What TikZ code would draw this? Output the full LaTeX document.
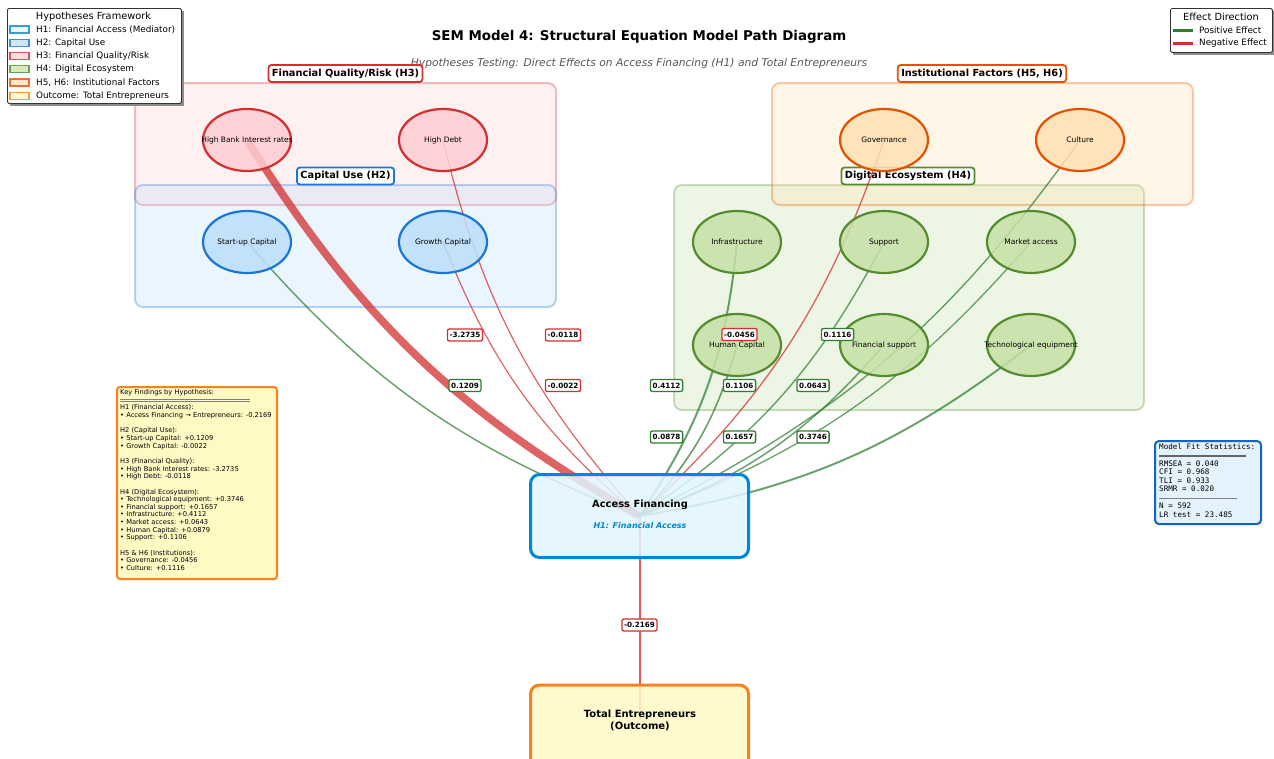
\documentclass[tikz,border=0pt]{standalone}
\usepackage{fontspec}
\setmainfont{DejaVu Sans}
\setmonofont{DejaVu Sans Mono}
\usetikzlibrary{shapes.geometric}
\definecolor{h1fill}{HTML}{E1F5FE}\definecolor{h1edge}{HTML}{0288D1}
\definecolor{h2fill}{HTML}{BBDEFB}\definecolor{h2edge}{HTML}{1976D2}
\definecolor{h3fill}{HTML}{FFCDD2}\definecolor{h3edge}{HTML}{D32F2F}
\definecolor{h4fill}{HTML}{C5E1A5}\definecolor{h4edge}{HTML}{558B2F}
\definecolor{h5fill}{HTML}{FFE0B2}\definecolor{h5edge}{HTML}{E65100}
\definecolor{outfill}{HTML}{FFF9C4}\definecolor{outedge}{HTML}{F58220}
\definecolor{posc}{HTML}{2E7D32}\definecolor{negc}{HTML}{D32F2F}
\definecolor{fitfill}{HTML}{E3F2FD}\definecolor{fitedge}{HTML}{1565C0}
\definecolor{subgray}{HTML}{555555}
\begin{document}
\begin{tikzpicture}[x=1pt,y=-1pt,
  grpbox/.style={rounded corners=8pt, line width=2pt, fill opacity=0.3, draw opacity=0.3},
  grplabel/.style={draw, fill=white, rounded corners=3pt, line width=1.8pt, font=\fontsize{9.8}{11}\selectfont\bfseries, inner xsep=3.5pt, inner ysep=0pt, minimum height=17pt},
  elbase/.style={ellipse, minimum width=88pt, minimum height=62pt, line width=2.2pt, fill opacity=0.85, inner sep=0pt},
  ellthree/.style={elbase, draw=h3edge, fill=h3fill},
  elltwo/.style={elbase, draw=h2edge, fill=h2fill},
  ellfour/.style={elbase, draw=h4edge, fill=h4fill},
  ellfive/.style={elbase, draw=h5edge, fill=h5fill},
  etext/.style={font=\fontsize{7.5}{8}\selectfont, inner sep=0pt},
  poseff/.style={draw=posc, draw opacity=0.72},
  negeff/.style={draw=negc, draw opacity=0.75},
  coef/.style={draw, fill=white, rounded corners=2pt, line width=1.3pt, font=\fontsize{7.2}{8}\selectfont\bfseries, inner xsep=2.2pt, inner ysep=0pt, minimum height=12pt},
  coefp/.style={coef, draw=posc},
  coefn/.style={coef, draw=negc},
  legpatch/.style={minimum width=19pt, minimum height=7pt, inner sep=0pt, line width=1.2pt, fill opacity=0.7, draw opacity=0.8},
  legtext/.style={anchor=west, font=\fontsize{8.8}{9}\selectfont, inner sep=0pt}
]
\useasboundingbox (0,0) rectangle (1274,758);

% titles
\node[font=\fontsize{13.4}{15}\selectfont\bfseries] (title) at (639,37) {SEM Model 4: Structural Equation Model Path Diagram};
\node[font=\fontsize{10.7}{12}\selectfont\itshape, text=subgray] (subtitle) at (639,64) {Hypotheses Testing: Direct Effects on Access Financing (H1) and Total Entrepreneurs};

% group boxes
\draw[grpbox, fill=h3fill, draw=h3edge] (135,83) rectangle (556,205);
\draw[grpbox, fill=h2fill, draw=h2edge] (135,185) rectangle (556,307);
\draw[grpbox, fill=h4fill, draw=h4edge] (674,185) rectangle (1144,410);
\draw[grpbox, fill=h5fill, draw=h5edge] (772,83) rectangle (1193,205);

% group labels
\node[grplabel, draw=h3edge] (lh3) at (345.5,73.5) {Financial Quality/Risk (H3)};
\node[grplabel, draw=h2edge] (lh2) at (345.5,176) {Capital Use (H2)};
\node[grplabel, draw=h5edge] (lh5) at (982,73.5) {Institutional Factors (H5, H6)};
\node[grplabel, draw=h4edge] (lh4) at (908,176) {Digital Ecosystem (H4)};

% coordinates of nodes (drawn later)
\coordinate (chbir) at (247,140);
\coordinate (chd) at (443,140);
\coordinate (csu) at (247,242);
\coordinate (cgc) at (443,242);
\coordinate (cgov) at (884,140);
\coordinate (ccul) at (1080,140);
\coordinate (cinf) at (737,242);
\coordinate (csup) at (884,242);
\coordinate (cmkt) at (1031,242);
\coordinate (chc) at (737,345);
\coordinate (cfs) at (884,345);
\coordinate (cte) at (1031,345);
\coordinate (caf) at (639.5,516);
\coordinate (cafb) at (640,516);
\coordinate (cout) at (640,720);

% paths
\draw[negeff, line width=7.7pt] (chbir) to[bend right=14] (caf);
\draw[negeff, line width=1.2pt] (chd) to[bend right=14] (caf);
\draw[poseff, line width=1.45pt] (csu) to[bend right=14] (caf);
\draw[negeff, line width=1.2pt] (cgc) to[bend right=14] (caf);
\draw[negeff, line width=1.3pt] (cgov) to[bend left=14] (caf);
\draw[poseff, line width=1.4pt] (ccul) to[bend left=14] (caf);
\draw[poseff, line width=2.0pt] (cinf) to[bend left=14] (caf);
\draw[poseff, line width=1.4pt] (csup) to[bend left=14] (caf);
\draw[poseff, line width=1.3pt] (cmkt) to[bend left=14] (caf);
\draw[poseff, line width=1.6pt] (chc) to[bend left=14] (caf);
\draw[poseff, line width=1.5pt] (cfs) to[bend left=14] (caf);
\draw[poseff, line width=1.95pt] (cte) to[bend left=14] (caf);
\draw[draw=negc, draw opacity=0.8, line width=1.6pt] (cafb) -- (cout);

% ellipses
\node[ellthree] (hbir) at (chbir) {}; \node[etext] at (hbir) {High Bank Interest rates};
\node[ellthree] (hd) at (chd) {}; \node[etext] at (hd) {High Debt};
\node[elltwo] (su) at (csu) {}; \node[etext] at (su) {Start-up Capital};
\node[elltwo] (gc) at (cgc) {}; \node[etext] at (gc) {Growth Capital};
\node[ellfive] (gov) at (cgov) {}; \node[etext] at (gov) {Governance};
\node[ellfive] (cul) at (ccul) {}; \node[etext] at (cul) {Culture};
\node[ellfour] (inf) at (cinf) {}; \node[etext] at (inf) {Infrastructure};
\node[ellfour] (sup) at (csup) {}; \node[etext] at (sup) {Support};
\node[ellfour] (mkt) at (cmkt) {}; \node[etext] at (mkt) {Market access};
\node[ellfour] (hc) at (chc) {}; \node[etext] at (hc) {Human Capital};
\node[ellfour] (fs) at (cfs) {}; \node[etext] at (fs) {Financial support};
\node[ellfour] (te) at (cte) {}; \node[etext] at (te) {Technological equipment};

% main boxes
\node[draw=h1edge, fill=h1fill, fill opacity=0.85, line width=3pt, rounded corners=9pt, minimum width=218pt, minimum height=83pt] (af) at (caf) {};
\node[font=\fontsize{9.9}{11}\selectfont\bfseries] (aftxt) at (640,505) {Access Financing};
\node[font=\fontsize{8}{9}\selectfont\bfseries\itshape, text=h1edge] (afsub) at (640,526) {H1: Financial Access};
\node[draw=outedge, fill=outfill, fill opacity=0.85, line width=3pt, rounded corners=9pt, minimum width=218pt, minimum height=92pt, anchor=north] (out) at (639.5,683.5) {};
\node[font=\fontsize{10}{11.5}\selectfont\bfseries, align=center] (outtxt) at (640,720.5) {Total Entrepreneurs\\(Outcome)};

% coefficient labels
\node[coefn] (k1) at (465,335) {-3.2735};
\node[coefn] (k2) at (563,335) {-0.0118};
\node[coefp] (k3) at (465,385.5) {0.1209};
\node[coefn] (k4) at (563,385.5) {-0.0022};
\node[coefp] (k5) at (666.5,385.5) {0.4112};
\node[coefp] (k6) at (666.5,437) {0.0878};
\node[coefn] (k7) at (739.5,334.5) {-0.0456};
\node[coefp] (k8) at (739.5,385.5) {0.1106};
\node[coefp] (k9) at (739.5,437) {0.1657};
\node[coefp] (k10) at (837.5,334.5) {0.1116};
\node[coefp] (k11) at (813,385.5) {0.0643};
\node[coefp] (k12) at (813,437) {0.3746};
\node[coefn] (k13) at (639.5,625) {-0.2169};

% key findings
\node[draw=outedge, fill=outfill, line width=2pt, rounded corners=3pt, minimum width=160pt, minimum height=192pt, anchor=north west] (kf) at (116,386) {};
\node[anchor=north west, inner sep=0pt, align=left, font=\fontsize{6.7}{7.65}\selectfont] (kftxt) at (120,389.3) {Key Findings by Hypothesis:\\ \mbox{}\\
H1 (Financial Access):\\
• Access Financing → Entrepreneurs: -0.2169\\ \mbox{}\\
H2 (Capital Use):\\
• Start-up Capital: +0.1209\\
• Growth Capital: -0.0022\\ \mbox{}\\
H3 (Financial Quality):\\
• High Bank Interest rates: -3.2735\\
• High Debt: -0.0118\\ \mbox{}\\
H4 (Digital Ecosystem):\\
• Technological equipment: +0.3746\\
• Financial support: +0.1657\\
• Infrastructure: +0.4112\\
• Market access: +0.0643\\
• Human Capital: +0.0879\\
• Support: +0.1106\\ \mbox{}\\
H5 \& H6 (Institutions):\\
• Governance: -0.0456\\
• Culture: +0.1116};
\draw[black!50, line width=0.7pt] (120,399.5) -- (250,399.5);
\draw[black!50, line width=0.7pt] (120,401.5) -- (250,401.5);

% model fit
\node[draw=fitedge, fill=fitfill, line width=2pt, rounded corners=4pt, minimum width=106pt, minimum height=83pt, anchor=north west] (fit) at (1154,440) {};
\node[anchor=north west, inner sep=0pt, align=left, font=\fontsize{7.6}{8.45}\ttfamily] (fittxt) at (1159,443.5) {Model Fit Statistics:\\ \mbox{}\\
RMSEA = 0.040\\
CFI = 0.968\\
TLI = 0.933\\
SRMR = 0.020\\ \mbox{}\\
N = 592\\
LR test = 23.485};
\draw[black!60, line width=1.6pt] (1159,456) -- (1246,456);
\draw[black!50, line width=0.6pt] (1159,498.5) -- (1237,498.5);

% legend: hypotheses
\fill[black!45] (9.5,10.5) rectangle (183.5,105.5);
\node[draw=black!80, fill=white, line width=0.8pt, rounded corners=1.5pt, minimum width=174pt, minimum height=95pt, anchor=north west, inner sep=0pt] (leg) at (7,8) {};
\node[font=\fontsize{9.8}{11}\selectfont] (legt) at (93.5,16.5) {Hypotheses Framework};
\node[legpatch, draw=h1edge, fill=h1fill] (p1) at (19.5,29.5) {}; \node[legtext] at (36,29.5) {H1: Financial Access (Mediator)};
\node[legpatch, draw=h2edge, fill=h2fill] (p2) at (19.5,42.8) {}; \node[legtext] at (36,42.8) {H2: Capital Use};
\node[legpatch, draw=h3edge, fill=h3fill] (p3) at (19.5,56) {}; \node[legtext] at (36,56) {H3: Financial Quality/Risk};
\node[legpatch, draw=h4edge, fill=h4fill] (p4) at (19.5,69.2) {}; \node[legtext] at (36,69.2) {H4: Digital Ecosystem};
\node[legpatch, draw=h5edge, fill=h5fill] (p5) at (19.5,82.4) {}; \node[legtext] at (36,82.4) {H5, H6: Institutional Factors};
\node[legpatch, draw=outedge, fill=outfill] (p6) at (19.5,95.6) {}; \node[legtext] at (36,95.6) {Outcome: Total Entrepreneurs};

% legend: effect direction
\fill[black!45] (1172.5,10.5) rectangle (1274,54.5);
\node[draw=black!80, fill=white, line width=0.8pt, rounded corners=1.5pt, minimum width=102pt, minimum height=44pt, anchor=north west, inner sep=0pt] (leg2) at (1170,8) {};
\node[font=\fontsize{9.8}{11}\selectfont] (leg2t) at (1221,16.5) {Effect Direction};
\coordinate (g1) at (1173,30); \coordinate (g2) at (1193,30);
\coordinate (r1) at (1173,43); \coordinate (r2) at (1193,43);
\draw[posc, line width=3pt] (g1) -- (g2);
\draw[negc, line width=3pt] (r1) -- (r2);
\node[legtext] at (1199,30) {Positive Effect};
\node[legtext] at (1199,43) {Negative Effect};
\end{tikzpicture}
\end{document}
